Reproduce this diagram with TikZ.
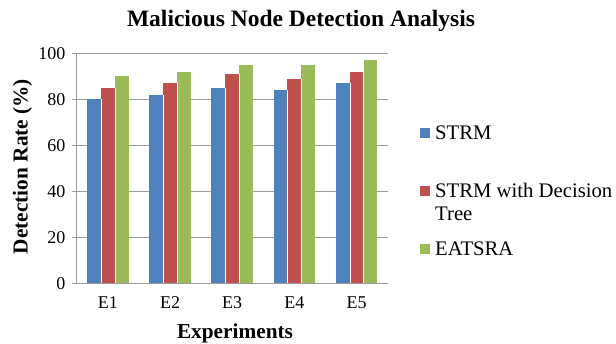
\documentclass[tikz,border=0pt]{standalone}
\usepackage{fontspec}
\setmainfont{Liberation Serif}
\definecolor{barblue}{HTML}{4F81BD}
\definecolor{barred}{HTML}{C0504D}
\definecolor{bargreen}{HTML}{9BBB59}
\definecolor{gridgray}{HTML}{9A9A9A}
\tikzset{
  gridline/.style={draw=gridgray, line width=1pt},
  bar/.style={draw=white, line width=0.3pt},
  ticklabel/.style={inner sep=0pt, font=\fontsize{18}{20}\selectfont},
  legendtext/.style={inner sep=0pt, anchor=base west, font=\fontsize{20.7}{23}\selectfont},
  legendkey/.style={inner sep=0pt, minimum size=10pt},
  axislabel/.style={inner sep=0pt, font=\fontsize{21.3}{24}\selectfont\bfseries},
}
\begin{document}
\begin{tikzpicture}[x=1pt, y=-1pt]
\useasboundingbox (0,0) rectangle (616,344);
% plot geometry: y = 0 at 284, 100 at 53.3; category width 62.2
\def\yz{284}
\def\ys{2.307}
\def\xl{76.7}
\def\cw{62.2}
% horizontal grid lines and tick marks
\foreach \v in {0,20,...,100} {
  \draw[gridline] (71.7,{\yz-\v*\ys}) -- (387.7,{\yz-\v*\ys});
  \node[ticklabel, anchor=east] at (65.5,{\yz-\v*\ys}) {\v};
}
% vertical axis
\draw[gridline] (\xl,\yz) -- (\xl,{\yz-100*\ys});
% bars
\foreach \i/\a/\b/\c/\lab in {0/80/85/90/E1, 1/82/87/92/E2, 2/85/91/95/E3, 3/84/89/95/E4, 4/87/92/97/E5} {
  \pgfmathsetmacro{\cx}{\xl+\cw*(\i+0.5)}
  \fill[barblue]  ({\cx-20.85},\yz) rectangle ({\cx-6.95},{\yz-\a*\ys});
  \fill[barred]   ({\cx-6.95},\yz) rectangle ({\cx+6.95},{\yz-\b*\ys});
  \fill[bargreen] ({\cx+6.95},\yz) rectangle ({\cx+20.85},{\yz-\c*\ys});
  \draw[bar] ({\cx-6.95},\yz) -- ({\cx-6.95},{\yz-\a*\ys});
  \draw[bar] ({\cx+6.95},\yz) -- ({\cx+6.95},{\yz-\b*\ys});
  \node[ticklabel, anchor=base] (cat\i) at (\cx,309) {\lab};
}
% baseline redrawn over the bars
\draw[gridline] (71.7,\yz) -- (387.7,\yz);
% titles
\node[inner sep=0pt, anchor=base, font=\fontsize{23.5}{26}\selectfont\bfseries] (title) at (301,27) {Malicious Node Detection Analysis};
\node[axislabel, anchor=base] (xlabel) at (235,339) {Experiments};
\node[axislabel, anchor=base, rotate=90] (ylabel) at (27.5,166.5) {Detection Rate (\%)};
% legend
\node[legendkey, fill=barblue]  (k1) at (425.3,133.5) {};
\node[legendkey, fill=barred]   (k2) at (425.3,191) {};
\node[legendkey, fill=bargreen] (k3) at (425.3,249) {};
\node[legendtext] (l1) at (435,140) {STRM};
\node[legendtext] (l2) at (435,198) {STRM with Decision};
\node[legendtext] (l2b) at (435,221) {Tree};
\node[legendtext] (l3) at (435,256) {EATSRA};
\end{tikzpicture}
\end{document}
